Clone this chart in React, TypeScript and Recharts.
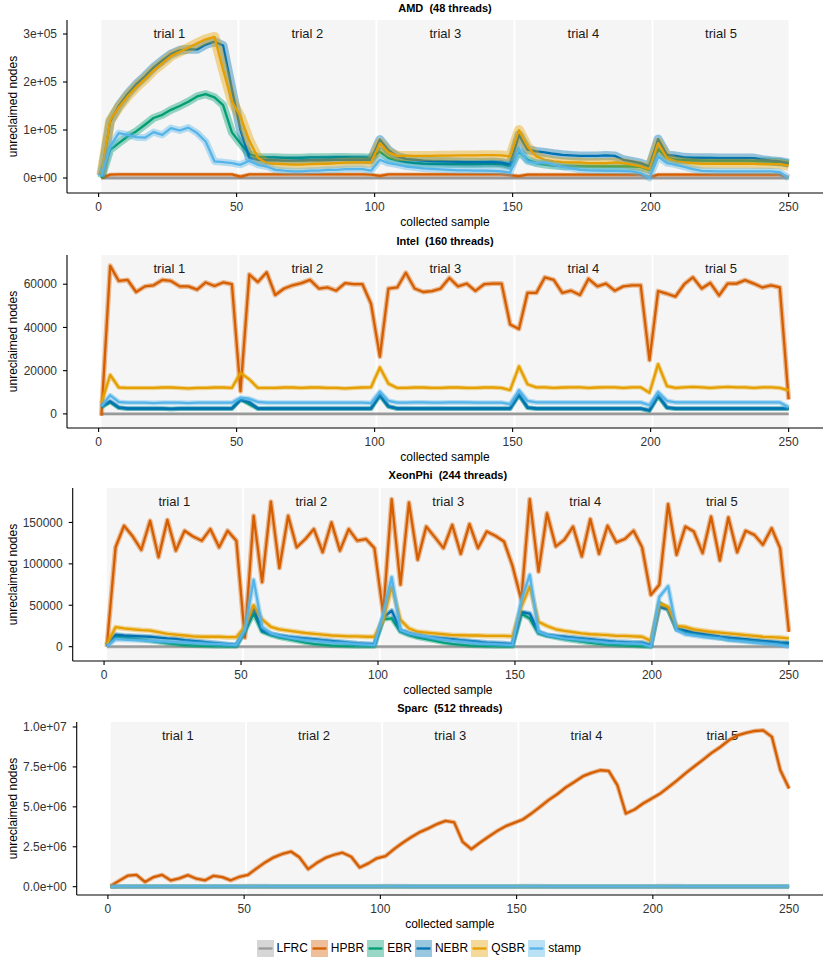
import { LineChart, Line, XAxis, YAxis, ReferenceArea } from 'recharts'

const FONT = '"Liberation Sans", Arial, Helvetica, sans-serif'

// sample positions shared by every series
const samples = [
  1, 4.2, 7.3, 10.5, 13.6, 16.8, 19.9, 23.1, 26.2, 29.4, 32.5, 35.7, 38.8, 42, 45.1, 48.3,
  51.4, 54.6, 57.7, 60.9, 64, 67.2, 70.3, 73.5, 76.6, 79.8, 83, 86.1, 89.3, 92.4, 95.6, 98.7,
  101.9, 105, 108.2, 111.3, 114.5, 117.6, 120.8, 123.9, 127.1, 130.2, 133.4, 136.5, 139.7, 142.8, 146, 149.1,
  152.3, 155.4, 158.6, 161.7, 164.9, 168, 171.2, 174.4, 177.5, 180.7, 183.8, 187, 190.1, 193.3, 196.4, 199.6,
  202.7, 205.9, 209, 212.2, 215.3, 218.5, 221.6, 224.8, 227.9, 231.1, 234.2, 237.4, 240.5, 243.7, 246.8, 250,
]

const trialLabels = ['trial 1', 'trial 2', 'trial 3', 'trial 4', 'trial 5']
const trialStarts = [1, 51, 101, 151, 201]
const trialEnds = [50.3, 100.3, 150.3, 200.3, 250]
const xTicks = [0, 50, 100, 150, 200, 250]

const seriesNames = ['LFRC', 'HPBR', 'EBR', 'NEBR', 'QSBR', 'stamp']
const seriesColors = ['#999999', '#D55E00', '#009E73', '#0072B2', '#E69F00', '#56B4E9']
const seriesFills = ['#d6d6d6', '#eebf99', '#99d8c7', '#99c7e0', '#f5d999', '#bbe1f6']

const lfrcNodes = [
  0, 0, 0, 0, 0, 0, 0, 0, 0, 0, 0, 0, 0, 0, 0, 0,
  0, 0, 0, 0, 0, 0, 0, 0, 0, 0, 0, 0, 0, 0, 0, 0,
  0, 0, 0, 0, 0, 0, 0, 0, 0, 0, 0, 0, 0, 0, 0, 0,
  0, 0, 0, 0, 0, 0, 0, 0, 0, 0, 0, 0, 0, 0, 0, 0,
  0, 0, 0, 0, 0, 0, 0, 0, 0, 0, 0, 0, 0, 0, 0, 0,
]

// AMD (48 threads)
const amdHpbr = [
  0, 7000, 7500, 7500, 7500, 7500, 7500, 7500, 7500, 7500, 7500, 7500, 7500, 7500, 7500, 7500,
  3000, 7500, 7500, 7500, 7500, 7500, 7500, 7500, 7500, 7500, 7500, 7500, 7500, 7500, 7500, 7000,
  4500, 7500, 7500, 7500, 7500, 7500, 7500, 7500, 7500, 7500, 7500, 7500, 7500, 7500, 7500, 6000,
  4000, 7000, 7000, 7000, 7000, 7000, 7000, 7000, 7000, 7000, 7000, 7000, 7000, 7000, 7000, 2000,
  7000, 7000, 7000, 7000, 7000, 7000, 7000, 7000, 7000, 7000, 7000, 7000, 7000, 7000, 7000, 1000,
]
const amdEbr = [
  0, 58500, 72700, 86500, 97000, 111000, 125000, 131600, 142000, 150000, 159000, 170000, 174600, 168000, 152000, 95000,
  72000, 50000, 44000, 43000, 43000, 42000, 42000, 42000, 43000, 43000, 43000, 43500, 43500, 43000, 43000, 42000,
  55000, 42000, 36000, 33000, 31000, 30000, 29500, 29500, 29000, 29000, 29000, 29000, 29500, 29500, 29000, 25000,
  55300, 38000, 31000, 28000, 26000, 25000, 25000, 24500, 24000, 24000, 24000, 24000, 24000, 24000, 23000, 17000,
  60000, 42000, 38000, 37000, 37000, 36500, 36000, 36000, 36000, 36000, 36000, 35500, 35000, 34000, 33000, 30000,
]
const amdNebr = [
  5000, 118000, 150000, 175000, 195000, 212000, 230000, 245000, 258000, 266000, 268000, 268000, 278000, 284000, 276000, 185000,
  100000, 42000, 38000, 37000, 37000, 36000, 36000, 36500, 37000, 37000, 37500, 38000, 38000, 38000, 38000, 38000,
  80000, 58000, 45000, 40000, 38000, 36000, 35000, 34500, 34000, 33500, 33000, 33000, 33000, 33500, 32000, 28000,
  90000, 59000, 55300, 53300, 50500, 48400, 47000, 46000, 46000, 46000, 47000, 46000, 38000, 34500, 31000, 24000,
  81000, 48400, 46000, 43000, 42000, 42000, 42000, 41500, 41500, 41500, 41500, 41500, 38000, 36000, 34500, 31000,
]
const amdQsbr = [
  7000, 120000, 147000, 170000, 189000, 206000, 224000, 239000, 254000, 263000, 271500, 280600, 289000, 294000, 225000, 160000,
  128000, 78000, 42000, 31000, 29700, 29000, 28000, 28000, 29000, 29700, 29700, 31000, 32000, 32500, 32500, 32000,
  72700, 53300, 46000, 46000, 46000, 46000, 46000, 46500, 46500, 47000, 47000, 47000, 47500, 47500, 47000, 45000,
  100000, 65700, 45000, 38000, 34500, 33000, 32500, 32500, 31000, 31000, 31000, 32500, 31000, 28000, 24000, 18700,
  72700, 41500, 34500, 32500, 31000, 29700, 29700, 29700, 29700, 29700, 29700, 29700, 29000, 29000, 29000, 25600,
]
const amdStamp = [
  3000, 65700, 93600, 90000, 85000, 84000, 95600, 90000, 104000, 99000, 105000, 93600, 76000, 34500, 33000, 31000,
  27600, 36000, 27600, 24000, 17000, 15200, 14000, 14000, 15200, 15500, 17000, 17000, 18700, 18700, 18700, 15200,
  38000, 31000, 28000, 24000, 22000, 20000, 19000, 18000, 17000, 16000, 16000, 15500, 15500, 15000, 14000, 11000,
  59000, 34500, 31000, 32500, 28000, 23000, 20800, 17000, 16000, 15500, 15000, 15000, 14500, 14000, 10400, 0,
  45000, 31000, 28000, 23000, 18700, 15000, 14500, 14000, 14000, 14000, 14000, 14000, 14000, 14000, 12000, 0,
]
const amdTicks = [0, 100000, 200000, 300000]
const amdTickLabels = ['0e+00', '1e+05', '2e+05', '3e+05']

// Intel (160 threads)
const intelHpbr = [
  -800, 68500, 61500, 62000, 56400, 59000, 59500, 62000, 61500, 59000, 59000, 57500, 60800, 59200, 60800, 60000,
  10500, 64500, 61000, 65500, 55000, 58000, 59500, 60500, 62000, 58000, 58500, 57000, 60500, 60000, 60000, 51000,
  26500, 58000, 58500, 65300, 58000, 56400, 56800, 58000, 62900, 59000, 60300, 56900, 60000, 60300, 60300, 41400,
  39300, 56000, 56000, 63200, 62000, 56000, 57000, 55000, 62500, 59000, 60300, 57000, 59000, 59500, 59500, 24900,
  56800, 55600, 54300, 60000, 63200, 58000, 60600, 54800, 60300, 60300, 61900, 60300, 58500, 59500, 58500, 6700,
]
const intelEbr = [
  3000, 5500, 2800, 2400, 2400, 2400, 2400, 2400, 2300, 2400, 2400, 2400, 2400, 2400, 2400, 2400,
  6800, 4500, 2400, 2400, 2400, 2400, 2400, 2400, 2400, 2400, 2400, 2400, 2400, 2400, 2400, 2400,
  8500, 3400, 2400, 2400, 2400, 2400, 2400, 2400, 2400, 2400, 2400, 2400, 2400, 2400, 2400, 2400,
  8700, 2800, 2400, 2400, 2400, 2400, 2400, 2400, 2400, 2400, 2400, 2400, 2400, 2400, 2400, 1500,
  8200, 2800, 2400, 2400, 2400, 2400, 2400, 2400, 2400, 2400, 2400, 2400, 2400, 2400, 2400, 2400,
]
const intelNebr = [
  3500, 5800, 3000, 2500, 2500, 2500, 2500, 2500, 2300, 2500, 2500, 2500, 2500, 2500, 2500, 2500,
  6500, 5500, 2500, 2500, 2500, 2500, 2500, 2500, 2500, 2500, 2500, 2500, 2500, 2500, 2500, 2500,
  8800, 3500, 2500, 2500, 2500, 2500, 2500, 2500, 2500, 2500, 2500, 2500, 2500, 2500, 2500, 2500,
  9000, 3000, 2500, 2500, 2500, 2500, 2500, 2500, 2500, 2500, 2500, 2500, 2500, 2500, 2500, 1600,
  8500, 3000, 2500, 2500, 2500, 2500, 2500, 2500, 2500, 2500, 2500, 2500, 2500, 2500, 2500, 2500,
]
const intelQsbr = [
  5000, 18000, 12200, 12000, 12000, 12000, 12000, 12200, 12200, 12000, 11800, 12000, 12000, 12200, 12200, 12000,
  19000, 16000, 12000, 12000, 12000, 12200, 12200, 12000, 12200, 12200, 12000, 12000, 11800, 12000, 12200, 12300,
  21500, 14000, 12000, 12000, 12200, 12200, 12000, 12000, 12200, 12200, 12000, 12000, 12200, 12200, 12000, 11000,
  22000, 13700, 12300, 12300, 12000, 12200, 12300, 12300, 12000, 12200, 12300, 12300, 12000, 12300, 12300, 9800,
  23000, 12900, 12000, 12300, 12500, 12300, 12000, 12300, 12500, 12300, 12300, 12000, 12300, 12300, 12000, 10900,
]
const intelStamp = [
  3500, 8600, 5500, 5200, 5200, 5200, 5000, 5200, 5200, 5200, 5000, 5200, 5200, 5200, 5200, 5200,
  7500, 7000, 5500, 5200, 5200, 5200, 5200, 5200, 5200, 5200, 5200, 5200, 5200, 5200, 5200, 5000,
  10300, 6000, 5200, 5200, 5300, 5300, 5200, 5200, 5300, 5300, 5300, 5200, 5200, 5200, 5200, 4500,
  10900, 6000, 5300, 5300, 5300, 5300, 5300, 5300, 5300, 5300, 5300, 5300, 5300, 5300, 5300, 4000,
  10100, 6000, 5300, 5300, 5300, 5300, 5300, 5300, 5300, 5300, 5300, 5300, 5300, 5300, 5300, 3100,
]
const intelTicks = [0, 20000, 40000, 60000]
const intelTickLabels = ['0', '20000', '40000', '60000']

// XeonPhi (244 threads)
const xeonHpbr = [
  0, 120000, 146000, 133000, 117000, 152000, 108000, 153000, 116000, 140000, 133000, 128000, 142000, 120000, 140000, 128000,
  11000, 158000, 78000, 175000, 95000, 158000, 120000, 130000, 142000, 114000, 150000, 116000, 142000, 128000, 130000, 119000,
  40000, 178000, 75000, 174000, 105000, 145000, 132000, 119000, 147000, 112000, 148000, 119000, 139000, 134000, 127000, 97600,
  56500, 178000, 90700, 161000, 121000, 129000, 145000, 109000, 154000, 112000, 146000, 126000, 130000, 140000, 120000, 62500,
  74700, 172000, 111000, 145000, 139000, 113000, 157000, 104000, 156000, 114000, 140000, 135000, 123000, 143000, 119000, 18000,
]
const xeonEbr = [
  2000, 12000, 11000, 10000, 8500, 7000, 5500, 4000, 3000, 2000, 1500, 1000, 800, 600, 500, 500,
  18000, 40000, 18000, 14000, 11000, 9000, 7000, 5000, 3500, 2500, 1500, 1000, 800, 600, 500, 500,
  33000, 34300, 18000, 14000, 11000, 9000, 7000, 5000, 3500, 2500, 1500, 1000, 800, 600, 500, 500,
  40000, 34000, 16000, 13000, 11000, 9000, 7500, 6000, 4500, 3500, 2500, 2000, 1500, 1000, 500, 0,
  53000, 46000, 21000, 18000, 15500, 13500, 12000, 10500, 9000, 8000, 7000, 6000, 5000, 4500, 4000, 3500,
]
const xeonNebr = [
  2000, 14500, 13500, 13000, 12500, 12000, 11000, 10000, 9500, 8000, 7000, 6000, 5000, 4000, 3000, 2000,
  20000, 47000, 20000, 15500, 13500, 12000, 11000, 10000, 9000, 8000, 7000, 6000, 5000, 4000, 3500, 3000,
  35000, 43500, 20000, 16000, 14000, 12000, 11000, 10000, 9000, 8000, 7000, 6000, 5000, 4500, 4000, 3000,
  42000, 40000, 18000, 14000, 13000, 12000, 11000, 10000, 9000, 8000, 7000, 6000, 5500, 5000, 5000, 2000,
  48000, 45000, 22000, 19500, 17000, 15500, 14000, 12000, 11000, 10000, 9000, 8000, 7000, 6000, 5000, 4500,
]
const xeonQsbr = [
  3000, 23500, 22000, 21000, 20000, 19500, 17500, 15500, 14500, 13500, 12500, 12000, 12000, 12000, 11500, 11500,
  24000, 50000, 33000, 24000, 21000, 19400, 18000, 16500, 15500, 14500, 13500, 13000, 12500, 12500, 12000, 12000,
  32000, 72600, 32300, 22000, 18000, 17000, 16000, 15000, 14000, 13800, 13500, 13500, 13000, 13000, 13000, 12500,
  48000, 72600, 30000, 25000, 21000, 19000, 17500, 16000, 15000, 14500, 14000, 13000, 13000, 12500, 12000, 7000,
  52000, 48000, 25000, 24000, 21000, 19500, 18000, 17000, 16000, 15000, 14000, 13000, 12000, 11500, 11000, 10000,
]
const xeonStamp = [
  0, 9000, 8500, 8000, 7500, 7000, 6500, 6000, 5500, 5000, 4500, 4000, 3500, 3000, 2500, 2000,
  20000, 80700, 24000, 16000, 13000, 11000, 9500, 8000, 7000, 6000, 5000, 4500, 4000, 3000, 2500, 2000,
  40000, 84000, 20000, 16000, 14000, 12000, 10000, 8500, 7000, 6000, 5000, 4000, 3500, 3000, 2500, 2000,
  56000, 86700, 18000, 14000, 12000, 10000, 9000, 8000, 7000, 6000, 5000, 4500, 4000, 4000, 3500, 0,
  60000, 73000, 20000, 15000, 13500, 12000, 11000, 10000, 8000, 7000, 6000, 5000, 4000, 3000, 2000, 0,
]
const xeonTicks = [0, 50000, 100000, 150000]
const xeonTickLabels = ['0', '50000', '100000', '150000']

// Sparc (512 threads)
const sparcHpbr = [
  50000, 380000, 690000, 740000, 300000, 600000, 740000, 390000, 520000, 720000, 500000, 400000, 680000, 600000, 400000, 620000,
  740000, 1150000, 1520000, 1840000, 2050000, 2200000, 1840000, 1100000, 1480000, 1800000, 2000000, 2130000, 1880000, 1200000, 1460000, 1780000,
  1920000, 2350000, 2750000, 3100000, 3420000, 3650000, 3920000, 4120000, 4030000, 2810000, 2350000, 2750000, 3130000, 3480000, 3790000, 4000000,
  4210000, 4580000, 5000000, 5420000, 5790000, 6210000, 6560000, 6920000, 7130000, 7290000, 7250000, 6350000, 4580000, 4830000, 5210000, 5520000,
  5830000, 6250000, 6670000, 7130000, 7540000, 7960000, 8380000, 8750000, 9170000, 9480000, 9630000, 9750000, 9790000, 9380000, 7290000, 6150000,
]
const sparcEbr = [
  0, 5000, 6000, 6000, 6000, 6000, 6000, 6000, 6000, 6000, 6000, 6000, 6000, 6000, 6000, 6000,
  8000, 7000, 6000, 6000, 6000, 6000, 6000, 6000, 6000, 6000, 6000, 6000, 6000, 6000, 6000, 6000,
  8000, 7000, 6000, 6000, 6000, 6000, 6000, 6000, 6000, 6000, 6000, 6000, 6000, 6000, 6000, 6000,
  8000, 7000, 6000, 6000, 6000, 6000, 6000, 6000, 6000, 6000, 6000, 6000, 6000, 6000, 6000, 5000,
  8000, 7000, 6000, 6000, 6000, 6000, 6000, 6000, 6000, 6000, 6000, 6000, 6000, 6000, 6000, 5000,
]
const sparcNebr = [
  0, 8000, 10000, 10000, 10000, 10000, 10000, 10000, 10000, 10000, 10000, 10000, 10000, 10000, 10000, 10000,
  14000, 12000, 10000, 10000, 10000, 10000, 10000, 10000, 10000, 10000, 10000, 10000, 10000, 10000, 10000, 10000,
  15000, 12000, 10000, 10000, 10000, 10000, 10000, 10000, 10000, 10000, 10000, 10000, 10000, 10000, 10000, 10000,
  15000, 12000, 10000, 10000, 10000, 10000, 10000, 10000, 10000, 10000, 10000, 10000, 10000, 10000, 10000, 8000,
  15000, 12000, 10000, 10000, 10000, 10000, 10000, 10000, 10000, 10000, 10000, 10000, 10000, 10000, 10000, 8000,
]
const sparcQsbr = [
  0, 12000, 14000, 14000, 14000, 14000, 14000, 14000, 14000, 14000, 14000, 14000, 14000, 14000, 14000, 14000,
  30000, 20000, 15000, 14000, 14000, 14000, 14000, 14000, 14000, 14000, 14000, 14000, 14000, 14000, 14000, 14000,
  28000, 18000, 15000, 14000, 14000, 14000, 14000, 14000, 14000, 14000, 14000, 14000, 14000, 14000, 14000, 14000,
  28000, 18000, 15000, 14000, 14000, 14000, 14000, 14000, 14000, 14000, 14000, 14000, 14000, 14000, 14000, 12000,
  30000, 18000, 15000, 14000, 14000, 14000, 14000, 14000, 14000, 14000, 14000, 14000, 14000, 14000, 14000, 12000,
]
const sparcStamp = [
  5000, 15000, 18000, 20000, 20000, 20000, 20000, 20000, 20000, 20000, 20000, 20000, 20000, 20000, 20000, 20000,
  25000, 24000, 22000, 20000, 20000, 20000, 20000, 20000, 20000, 20000, 20000, 20000, 20000, 20000, 20000, 20000,
  26000, 24000, 22000, 20000, 20000, 20000, 20000, 20000, 20000, 20000, 20000, 20000, 20000, 20000, 20000, 18000,
  26000, 24000, 22000, 20000, 20000, 20000, 20000, 20000, 20000, 20000, 20000, 20000, 20000, 20000, 20000, 16000,
  26000, 24000, 22000, 20000, 20000, 20000, 20000, 20000, 20000, 20000, 20000, 20000, 20000, 20000, 20000, 16000,
]
const sparcTicks = [0, 2500000, 5000000, 7500000, 10000000]
const sparcTickLabels = ['0.0e+00', '2.5e+06', '5.0e+06', '7.5e+06', '1.0e+07']

// ribbon widths (px) per series: LFRC, HPBR, EBR, NEBR, QSBR, stamp
const panels = [
  { title: 'AMD  (48 threads)', top: 20, left: 67, titleGap: 12, domain: [-31250, 329200], ticks: amdTicks, tickLabels: amdTickLabels,
    bands: [3.5, 4, 8, 9, 10, 7], values: [lfrcNodes, amdHpbr, amdEbr, amdNebr, amdQsbr, amdStamp] },
  { title: 'Intel  (160 threads)', top: 254.7, left: 67, titleGap: 13.7, domain: [-6530, 73520], ticks: intelTicks, tickLabels: intelTickLabels,
    bands: [3.5, 5, 4.5, 4.5, 4.5, 5], values: [lfrcNodes, intelHpbr, intelEbr, intelNebr, intelQsbr, intelStamp] },
  { title: 'XeonPhi  (244 threads)', top: 488.3, left: 72.7, titleGap: 13.8, domain: [-17300, 191600], ticks: xeonTicks, tickLabels: xeonTickLabels,
    bands: [3.5, 5, 5, 5, 5, 5], values: [lfrcNodes, xeonHpbr, xeonEbr, xeonNebr, xeonQsbr, xeonStamp] },
  { title: 'Sparc  (512 threads)', top: 721.7, left: 76.7, titleGap: 13.7, domain: [-520000, 10312500], ticks: sparcTicks, tickLabels: sparcTickLabels,
    bands: [3.5, 4.5, 4, 4, 4, 5], values: [lfrcNodes, sparcHpbr, sparcEbr, sparcNebr, sparcQsbr, sparcStamp] },
]

const PLOT_H = 173
const AXIS_H = 36
const TOP_PAD = 20
const RIGHT = 823

function Panel({ panel }: { panel: any }) {
  const rows = samples.map((x, i) => {
    const row: Record<string, number> = { x }
    seriesNames.forEach((name, s) => {
      row[name] = panel.values[s][i]
    })
    return row
  })
  const height = TOP_PAD + PLOT_H + AXIS_H
  const centerX = (panel.left + RIGHT) / 2

  return (
    <div style={{ position: 'absolute', left: 0, top: panel.top - TOP_PAD, width: 830, height }}>
      <div
        style={{
          position: 'absolute', left: centerX - 200, width: 400, top: TOP_PAD - panel.titleGap - 7,
          height: 14, lineHeight: '14px', textAlign: 'center', whiteSpace: 'pre',
          fontFamily: FONT, fontSize: 11, fontWeight: 'bold', color: '#000', zIndex: 2,
        }}
      >
        {panel.title}
      </div>
      <LineChart width={830} height={height} data={rows} margin={{ top: TOP_PAD, right: 830 - RIGHT, bottom: 0, left: 0 }}>
        {trialLabels.map((label, t) => (
          <ReferenceArea
            key={label}
            x1={trialStarts[t]}
            x2={trialEnds[t]}
            fill="#f5f5f5"
            fillOpacity={1}
            stroke="none"
            label={({ viewBox }: any) => (
              <text x={viewBox.x + viewBox.width / 2} y={viewBox.y + 13.5} textAnchor="middle" dominantBaseline="central"
                fontFamily={FONT} fontSize={13} fill="#1a1a1a">
                {label}
              </text>
            )}
          />
        ))}
        <XAxis
          type="number"
          dataKey="x"
          domain={[-11.45, 262.45]}
          allowDataOverflow
          ticks={xTicks}
          interval={0}
          height={AXIS_H}
          tickSize={4}
          tickMargin={5}
          tick={{ fill: '#333', fontSize: 12, fontFamily: FONT }}
          axisLine={{ stroke: '#000', strokeWidth: 1.1 }}
          tickLine={{ stroke: '#000', strokeWidth: 1.1 }}
          label={({ viewBox }: any) => (
            <text x={viewBox.x + viewBox.width / 2} y={viewBox.y + 29} textAnchor="middle" dominantBaseline="central"
              fontFamily={FONT} fontSize={12} fill="#000">
              collected sample
            </text>
          )}
        />
        <YAxis
          type="number"
          width={panel.left}
          domain={panel.domain}
          allowDataOverflow
          ticks={panel.ticks}
          interval={0}
          tickSize={4}
          tickMargin={6}
          tickFormatter={(v: number) => panel.tickLabels[panel.ticks.indexOf(v)] ?? ''}
          tick={{ fill: '#333', fontSize: 12, fontFamily: FONT }}
          axisLine={{ stroke: '#000', strokeWidth: 1.1 }}
          tickLine={{ stroke: '#000', strokeWidth: 1.1 }}
          label={({ viewBox }: any) => {
            const cy = viewBox.y + viewBox.height / 2
            return (
              <text x={13} y={cy} transform={`rotate(-90 13 ${cy})`} textAnchor="middle" dominantBaseline="central"
                fontFamily={FONT} fontSize={12} fill="#000">
                unreclaimed nodes
              </text>
            )
          }}
        />
        {seriesNames.flatMap((name, s) => [
          <Line key={name} type="linear" dataKey={name} stroke={seriesColors[s]} strokeWidth={2.3}
            strokeLinejoin="round" dot={false} activeDot={false} isAnimationActive={false} />,
          <Line key={name + '-band'} type="linear" dataKey={name} stroke={seriesColors[s]} strokeOpacity={0.4}
            strokeWidth={panel.bands[s]} strokeLinejoin="round" dot={false} activeDot={false} isAnimationActive={false} />,
        ])}
      </LineChart>
    </div>
  )
}

function KeyLegend() {
  return (
    <div style={{ position: 'absolute', left: 256.5, top: 940, display: 'flex', alignItems: 'center', height: 17, fontFamily: FONT, fontSize: 12 }}>
      {seriesNames.map((name, s) => (
        <div key={name} style={{ display: 'flex', alignItems: 'center' }}>
          <svg width={17} height={17} style={{ display: 'block' }}>
            <rect x={0} y={0} width={17} height={17} fill={seriesFills[s]} />
            <line x1={1.5} x2={15.5} y1={8.5} y2={8.5} stroke={seriesColors[s]} strokeWidth={2.3} />
          </svg>
          <span style={{ padding: '0 3px', lineHeight: '17px', color: '#000' }}>{name}</span>
        </div>
      ))}
    </div>
  )
}

export default function App() {
  return (
    <div style={{ position: 'absolute', left: 0, top: 0, width: 830, height: 968, background: '#fff' }}>
      {panels.map((p) => (
        <Panel key={p.title} panel={p} />
      ))}
      <KeyLegend />
    </div>
  )
}
